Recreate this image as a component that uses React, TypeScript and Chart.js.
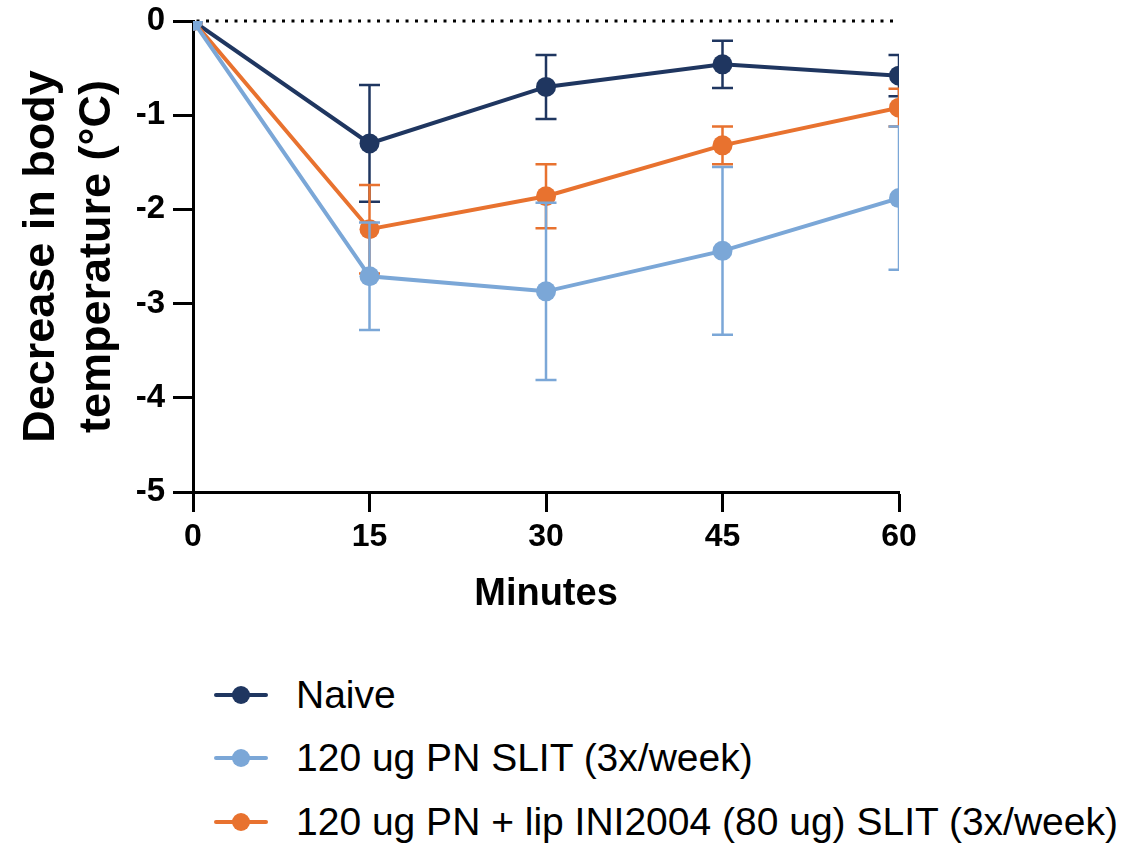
import React, { useEffect, useRef } from "react";
import { Chart, registerables } from "chart.js";

Chart.register(...registerables);

// ---- data ----
const minutes = [0, 15, 30, 45, 60];
const naive = [0, -1.3, -0.7, -0.46, -0.58];
const naiveErr = [0, 0.62, 0.34, 0.25, 0.22];
const slit = [0, -2.71, -2.87, -2.44, -1.88];
const slitErr = [0, 0.57, 0.94, 0.89, 0.76];
const lip = [0, -2.21, -1.86, -1.32, -0.92];
const lipErr = [0, 0.47, 0.34, 0.2, 0.2];
const seriesNames = [
  "Naive",
  "120 ug PN SLIT (3x/week)",
  "120 ug PN + lip INI2004 (80 ug) SLIT (3x/week)",
];
const seriesColors = ["#1F3660", "#7BA7D7", "#E8722F"];
const xTicks = [0, 15, 30, 45, 60];
const yTicks = [0, -1, -2, -3, -4, -5];
const xTitle = "Minutes";
const yTitle = ["Decrease in body", "temperature (°C)"];
const referenceLine = [0, 0];

const FONT = '"Liberation Sans", Arial, Helvetica, sans-serif';

const errorBarPlugin = {
  id: "errorBars",
  beforeDatasetDraw(chart: any, args: any) {
    const ds = chart.data.datasets[args.index];
    if (!ds.errors) return;
    const meta = args.meta;
    const ctx = chart.ctx;
    const yScale = chart.scales.y;
    const { left, top, right, bottom } = chart.chartArea;
    ctx.save();
    ctx.beginPath();
    ctx.rect(left, top, right - left, bottom - top);
    ctx.clip();
    ctx.strokeStyle = ds.borderColor;
    ctx.lineWidth = 2.5;
    const cap = 10.5;
    meta.data.forEach((pt: any, i: number) => {
      const e = ds.errors[i];
      if (!e) return;
      const v = ds.data[i].y;
      const yHi = yScale.getPixelForValue(v + e);
      const yLo = yScale.getPixelForValue(v - e);
      ctx.beginPath();
      ctx.moveTo(pt.x, yHi);
      ctx.lineTo(pt.x, yLo);
      ctx.moveTo(pt.x - cap, yHi);
      ctx.lineTo(pt.x + cap, yHi);
      ctx.moveTo(pt.x - cap, yLo);
      ctx.lineTo(pt.x + cap, yLo);
      ctx.stroke();
    });
    ctx.restore();
  },
};

function series(values: number[], errs: number[], idx: number, order: number) {
  return {
    label: seriesNames[idx],
    data: minutes.map((m, i) => ({ x: m, y: values[i] })),
    errors: errs,
    borderColor: seriesColors[idx],
    backgroundColor: seriesColors[idx],
    pointBackgroundColor: seriesColors[idx],
    pointBorderColor: seriesColors[idx],
    pointBorderWidth: 0,
    pointRadius: 10,
    borderWidth: 4,
    tension: 0,
    order,
  };
}

export default function App() {
  const ref = useRef<HTMLCanvasElement | null>(null);

  useEffect(() => {
    if (!ref.current) return;
    const chart = new Chart(ref.current, {
      type: "line",
      data: {
        datasets: [
          series(slit, slitErr, 1, 0),
          series(lip, lipErr, 2, 1),
          series(naive, naiveErr, 0, 2),
          {
            label: "ref",
            data: [
              { x: minutes[0], y: referenceLine[0] },
              { x: minutes[minutes.length - 1], y: referenceLine[1] },
            ],
            borderColor: "#000",
            borderWidth: 3,
            borderDash: [3, 6.5],
            borderDashOffset: -13,
            pointRadius: 0,
            clip: 4,
            order: 3,
          } as any,
        ] as any,
      },
      options: {
        animation: false,
        responsive: false,
        devicePixelRatio: 1,
        layout: { padding: { left: 0, top: 21, right: 239, bottom: 0 } },
        plugins: {
          legend: { display: false },
          tooltip: { enabled: false },
        },
        scales: {
          x: {
            type: "linear",
            min: 0,
            max: 60,
            afterBuildTicks: (scale: any) => {
              scale.ticks = xTicks.map((v) => ({ value: v }));
            },
            afterFit: (scale: any) => {
              scale.height = 148;
              scale.paddingLeft = 0;
              scale.paddingRight = 0;
            },
            ticks: {
              color: "#000",
              font: { family: FONT, size: 32, weight: "bold" },
              padding: 6,
              maxRotation: 0,
              autoSkip: false,
              callback: (v: any) => String(v),
            },
            grid: {
              drawOnChartArea: false,
              drawTicks: true,
              tickLength: 20,
              tickWidth: 3,
              tickColor: "#000",
            },
            border: { display: true, color: "#000", width: 3 },
            title: {
              display: true,
              text: xTitle,
              color: "#000",
              font: { family: FONT, size: 38, weight: "bold" },
              padding: { top: 0, bottom: 23 },
            },
          },
          y: {
            type: "linear",
            min: -5,
            max: 0,
            afterBuildTicks: (scale: any) => {
              scale.ticks = yTicks.map((v) => ({ value: v }));
            },
            afterFit: (scale: any) => {
              scale.width = 193;
              scale.paddingTop = 0;
              scale.paddingBottom = 0;
            },
            ticks: {
              color: "#000",
              font: { family: FONT, size: 33, weight: "bold" },
              padding: 8,
              autoSkip: false,
              callback: (v: any) => String(v),
            },
            grid: {
              drawOnChartArea: false,
              drawTicks: true,
              tickLength: 20,
              tickWidth: 3,
              tickColor: "#000",
            },
            border: { display: true, color: "#000", width: 3 },
            title: {
              display: true,
              text: yTitle,
              color: "#000",
              font: { family: FONT, size: 45, weight: "bold", lineHeight: 1.25 },
              padding: { top: 13, bottom: 0 },
            },
          },
        },
      } as any,
      plugins: [errorBarPlugin],
    });
    return () => chart.destroy();
  }, []);

  const legendY = [695, 758, 822];

  return (
    <div style={{ position: "absolute", left: 0, top: 0, width: 1138, height: 845, background: "#fff" }}>
      <canvas
        ref={ref}
        width={1138}
        height={640}
        style={{ position: "absolute", left: 0, top: 0, width: 1138, height: 640 }}
      />
      {seriesNames.map((name, i) => (
        <div
          key={name}
          style={{
            position: "absolute",
            left: 214,
            top: legendY[i] - 25,
            height: 50,
            display: "flex",
            alignItems: "center",
            whiteSpace: "nowrap",
          }}
        >
          <div style={{ position: "relative", width: 54, height: 50 }}>
            <div
              style={{
                position: "absolute",
                left: 0,
                top: 23,
                width: 54,
                height: 4,
                background: seriesColors[i],
                borderRadius: 2,
              }}
            />
            <div
              style={{
                position: "absolute",
                left: 18,
                top: 16,
                width: 18,
                height: 18,
                borderRadius: "50%",
                background: seriesColors[i],
              }}
            />
          </div>
          <span
            style={{
              marginLeft: 28,
              fontFamily: FONT,
              fontSize: 39,
              lineHeight: "50px",
              color: "#000",
            }}
          >
            {name}
          </span>
        </div>
      ))}
    </div>
  );
}
